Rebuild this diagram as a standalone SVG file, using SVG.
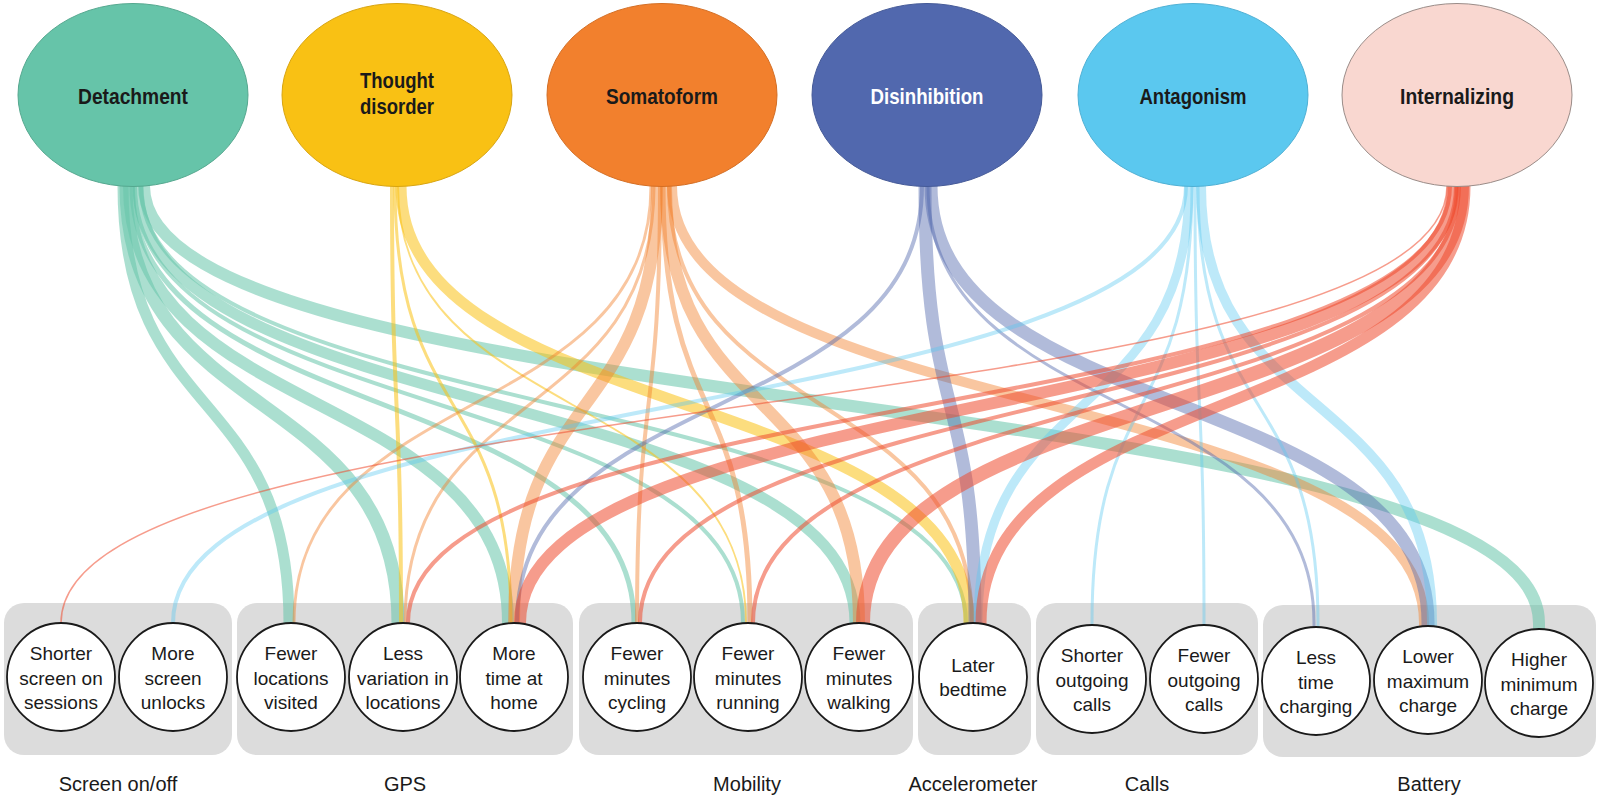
<svg xmlns="http://www.w3.org/2000/svg" width="1600" height="800" viewBox="0 0 1600 800">
<style>
.box{fill:#dcdcdc}
.e{fill:none;stroke-linecap:butt}
.d{stroke:#66C4A9;stroke-opacity:.55}
.t{stroke:#F9C114;stroke-opacity:.55}
.s{stroke:#F2802D;stroke-opacity:.45}
.b{stroke:#5168AE;stroke-opacity:.45}
.a{stroke:#5BC8EF;stroke-opacity:.4}
.i{stroke:#EE4A2E;stroke-opacity:.55}
.top{font-family:'Liberation Sans',Arial,sans-serif;font-weight:bold;font-size:22px;text-anchor:middle;fill:#1a1a1a}
.node circle{fill:#fff;stroke:#1a1a1a;stroke-width:1.8}
.lbl{font-family:'Liberation Sans',Arial,sans-serif;font-size:19px;text-anchor:middle;fill:#1a1a1a}
.cat{font-family:'Liberation Sans',Arial,sans-serif;font-size:20px;text-anchor:middle;fill:#1a1a1a}
</style>

<g id="groups">
<rect class="box" x="4" y="603" width="228" height="152" rx="20"/>
<rect class="box" x="237" y="603" width="336" height="152" rx="20"/>
<rect class="box" x="579" y="603" width="334" height="152" rx="20"/>
<rect class="box" x="918" y="603" width="113" height="152" rx="20"/>
<rect class="box" x="1036" y="603" width="222" height="152" rx="20"/>
<rect class="box" x="1263" y="605" width="333" height="152" rx="20"/>
</g>

<g id="connectors">
<path class="e d" stroke-width="11" d="M123 150V186C123 426 289 383 289 623V640"/>
<path class="e d" stroke-width="13" d="M126 150V186C126 426 398 383 398 623V640"/>
<path class="e d" stroke-width="12" d="M129 150V186C129 426 508 383 508 623V640"/>
<path class="e d" stroke-width="5" d="M132 150V186C132 426 634 383 634 623V640"/>
<path class="e d" stroke-width="4" d="M135 150V186C135 426 743 383 743 623V640"/>
<path class="e d" stroke-width="11" d="M138 150V186C138 426 855 383 855 623V640"/>
<path class="e d" stroke-width="4" d="M141 150V186C141 426 966 383 966 623V640"/>
<path class="e d" stroke-width="12" d="M144 150V186C144 426 1539 383 1539 623V640"/>

<path class="e t" stroke-width="4" d="M392 150V186C392 426 401 383 401 623V640"/>
<path class="e t" stroke-width="3" d="M395 150V186C395 426 511 383 511 623V640"/>
<path class="e t" stroke-width="2" d="M398 150V186C398 426 746 383 746 623V640"/>
<path class="e t" stroke-width="11" d="M401 150V186C401 426 969 383 969 623V640"/>

<path class="e s" stroke-width="3" d="M651 150V186C651 426 294 383 294 623V640"/>
<path class="e s" stroke-width="3" d="M654 150V186C654 426 405 383 405 623V640"/>
<path class="e s" stroke-width="12" d="M657 150V186C657 426 514 383 514 623V640"/>
<path class="e s" stroke-width="4" d="M660 150V186C660 426 637 383 637 623V640"/>
<path class="e s" stroke-width="5" d="M663 150V186C663 426 750 383 750 623V640"/>
<path class="e s" stroke-width="12" d="M666 150V186C666 426 859 383 859 623V640"/>
<path class="e s" stroke-width="4" d="M669 150V186C669 426 972 383 972 623V640"/>
<path class="e s" stroke-width="10" d="M672 150V186C672 426 1424 383 1424 623V640"/>

<path class="e b" stroke-width="4" d="M922 150V186C922 426 517 383 517 623V640"/>
<path class="e b" stroke-width="13" d="M925 150V186C925 426 975 383 975 623V640"/>
<path class="e b" stroke-width="3" d="M928 150V186C928 426 1314 383 1314 623V640"/>
<path class="e b" stroke-width="13" d="M931 150V186C931 426 1428 383 1428 623V640"/>

<path class="e a" stroke-width="4" d="M1186 150V186C1186 426 173 383 173 623V640"/>
<path class="e a" stroke-width="9" d="M1189 150V186C1189 426 978 383 978 623V640"/>
<path class="e a" stroke-width="3" d="M1192 150V186C1192 426 1092 383 1092 623V640"/>
<path class="e a" stroke-width="3" d="M1195 150V186C1195 426 1204 383 1204 623V640"/>
<path class="e a" stroke-width="3" d="M1198 150V186C1198 426 1318 383 1318 623V640"/>
<path class="e a" stroke-width="10" d="M1201 150V186C1201 426 1432 383 1432 623V640"/>

<path class="e i" stroke-width="1.5" d="M1447 150V186C1447 426 61 383 61 623V640"/>
<path class="e i" stroke-width="4" d="M1450 150V186C1450 426 408 383 408 623V640"/>
<path class="e i" stroke-width="12" d="M1453 150V186C1453 426 520 383 520 623V640"/>
<path class="e i" stroke-width="4" d="M1456 150V186C1456 426 640 383 640 623V640"/>
<path class="e i" stroke-width="4" d="M1459 150V186C1459 426 753 383 753 623V640"/>
<path class="e i" stroke-width="14" d="M1462 150V186C1462 426 863 383 863 623V640"/>
<path class="e i" stroke-width="11" d="M1465 150V186C1465 426 981 383 981 623V640"/>
</g>

<g id="detachment">
<ellipse cx="133" cy="95" rx="115" ry="91.5" fill="#66C4A9" stroke="#55a88f" stroke-width="1"/>
<text class="top" x="133" y="104" textLength="110" lengthAdjust="spacingAndGlyphs">Detachment</text>
</g>
<g id="thought-disorder">
<ellipse cx="397" cy="95" rx="115" ry="91.5" fill="#F9C114" stroke="#d8a410" stroke-width="1"/>
<text class="top" x="397" y="88" textLength="74" lengthAdjust="spacingAndGlyphs">Thought</text>
<text class="top" x="397" y="114" textLength="74" lengthAdjust="spacingAndGlyphs">disorder</text>
</g>
<g id="somatoform">
<ellipse cx="662" cy="95" rx="115" ry="91.5" fill="#F2802D" stroke="#d46e24" stroke-width="1"/>
<text class="top" x="662" y="104" textLength="112" lengthAdjust="spacingAndGlyphs">Somatoform</text>
</g>
<g id="disinhibition">
<ellipse cx="927" cy="95" rx="115" ry="91.5" fill="#5168AE" stroke="#455a98" stroke-width="1"/>
<text class="top" x="927" y="104" textLength="113" lengthAdjust="spacingAndGlyphs" style="fill:#fff">Disinhibition</text>
</g>
<g id="antagonism">
<ellipse cx="1193" cy="95" rx="115" ry="91.5" fill="#5BC8EF" stroke="#4fb0d4" stroke-width="1"/>
<text class="top" x="1193" y="104" textLength="107" lengthAdjust="spacingAndGlyphs">Antagonism</text>
</g>
<g id="internalizing">
<ellipse cx="1457" cy="95" rx="115" ry="91.5" fill="#F9D7D0" stroke="#9a8c88" stroke-width="1"/>
<text class="top" x="1457" y="104" textLength="114" lengthAdjust="spacingAndGlyphs">Internalizing</text>
</g>

<g id="n-shorter-screen" class="node"><circle cx="61" cy="677" r="54"/>
<text class="lbl" x="61" y="660">Shorter</text><text class="lbl" x="61" y="684.5">screen on</text><text class="lbl" x="61" y="709">sessions</text></g>
<g id="n-more-unlocks" class="node"><circle cx="173" cy="677" r="54"/>
<text class="lbl" x="173" y="660">More</text><text class="lbl" x="173" y="684.5">screen</text><text class="lbl" x="173" y="709">unlocks</text></g>
<g id="n-fewer-locations" class="node"><circle cx="291" cy="677" r="54"/>
<text class="lbl" x="291" y="660">Fewer</text><text class="lbl" x="291" y="684.5">locations</text><text class="lbl" x="291" y="709">visited</text></g>
<g id="n-less-variation" class="node"><circle cx="403" cy="677" r="54"/>
<text class="lbl" x="403" y="660">Less</text><text class="lbl" x="403" y="684.5">variation in</text><text class="lbl" x="403" y="709">locations</text></g>
<g id="n-time-home" class="node"><circle cx="514" cy="677" r="54"/>
<text class="lbl" x="514" y="660">More</text><text class="lbl" x="514" y="684.5">time at</text><text class="lbl" x="514" y="709">home</text></g>
<g id="n-cycling" class="node"><circle cx="637" cy="677" r="54"/>
<text class="lbl" x="637" y="660">Fewer</text><text class="lbl" x="637" y="684.5">minutes</text><text class="lbl" x="637" y="709">cycling</text></g>
<g id="n-running" class="node"><circle cx="748" cy="677" r="54"/>
<text class="lbl" x="748" y="660">Fewer</text><text class="lbl" x="748" y="684.5">minutes</text><text class="lbl" x="748" y="709">running</text></g>
<g id="n-walking" class="node"><circle cx="859" cy="677" r="54"/>
<text class="lbl" x="859" y="660">Fewer</text><text class="lbl" x="859" y="684.5">minutes</text><text class="lbl" x="859" y="709">walking</text></g>
<g id="n-bedtime" class="node"><circle cx="973" cy="677" r="54"/>
<text class="lbl" x="973" y="672">Later</text><text class="lbl" x="973" y="696">bedtime</text></g>
<g id="n-shorter-calls" class="node"><circle cx="1092" cy="679" r="54"/>
<text class="lbl" x="1092" y="662">Shorter</text><text class="lbl" x="1092" y="686.5">outgoing</text><text class="lbl" x="1092" y="711">calls</text></g>
<g id="n-fewer-calls" class="node"><circle cx="1204" cy="679" r="54"/>
<text class="lbl" x="1204" y="662">Fewer</text><text class="lbl" x="1204" y="686.5">outgoing</text><text class="lbl" x="1204" y="711">calls</text></g>
<g id="n-less-charging" class="node"><circle cx="1316" cy="681" r="54"/>
<text class="lbl" x="1316" y="664">Less</text><text class="lbl" x="1316" y="688.5">time</text><text class="lbl" x="1316" y="713">charging</text></g>
<g id="n-lower-max" class="node"><circle cx="1428" cy="680" r="54"/>
<text class="lbl" x="1428" y="663">Lower</text><text class="lbl" x="1428" y="687.5">maximum</text><text class="lbl" x="1428" y="712">charge</text></g>
<g id="n-higher-min" class="node"><circle cx="1539" cy="683" r="54"/>
<text class="lbl" x="1539" y="666">Higher</text><text class="lbl" x="1539" y="690.5">minimum</text><text class="lbl" x="1539" y="715">charge</text></g>

<g id="categories">
<text class="cat" x="118" y="791">Screen on/off</text>
<text class="cat" x="405" y="791">GPS</text>
<text class="cat" x="747" y="791">Mobility</text>
<text class="cat" x="973" y="791">Accelerometer</text>
<text class="cat" x="1147" y="791">Calls</text>
<text class="cat" x="1429" y="791">Battery</text>
</g>
</svg>
